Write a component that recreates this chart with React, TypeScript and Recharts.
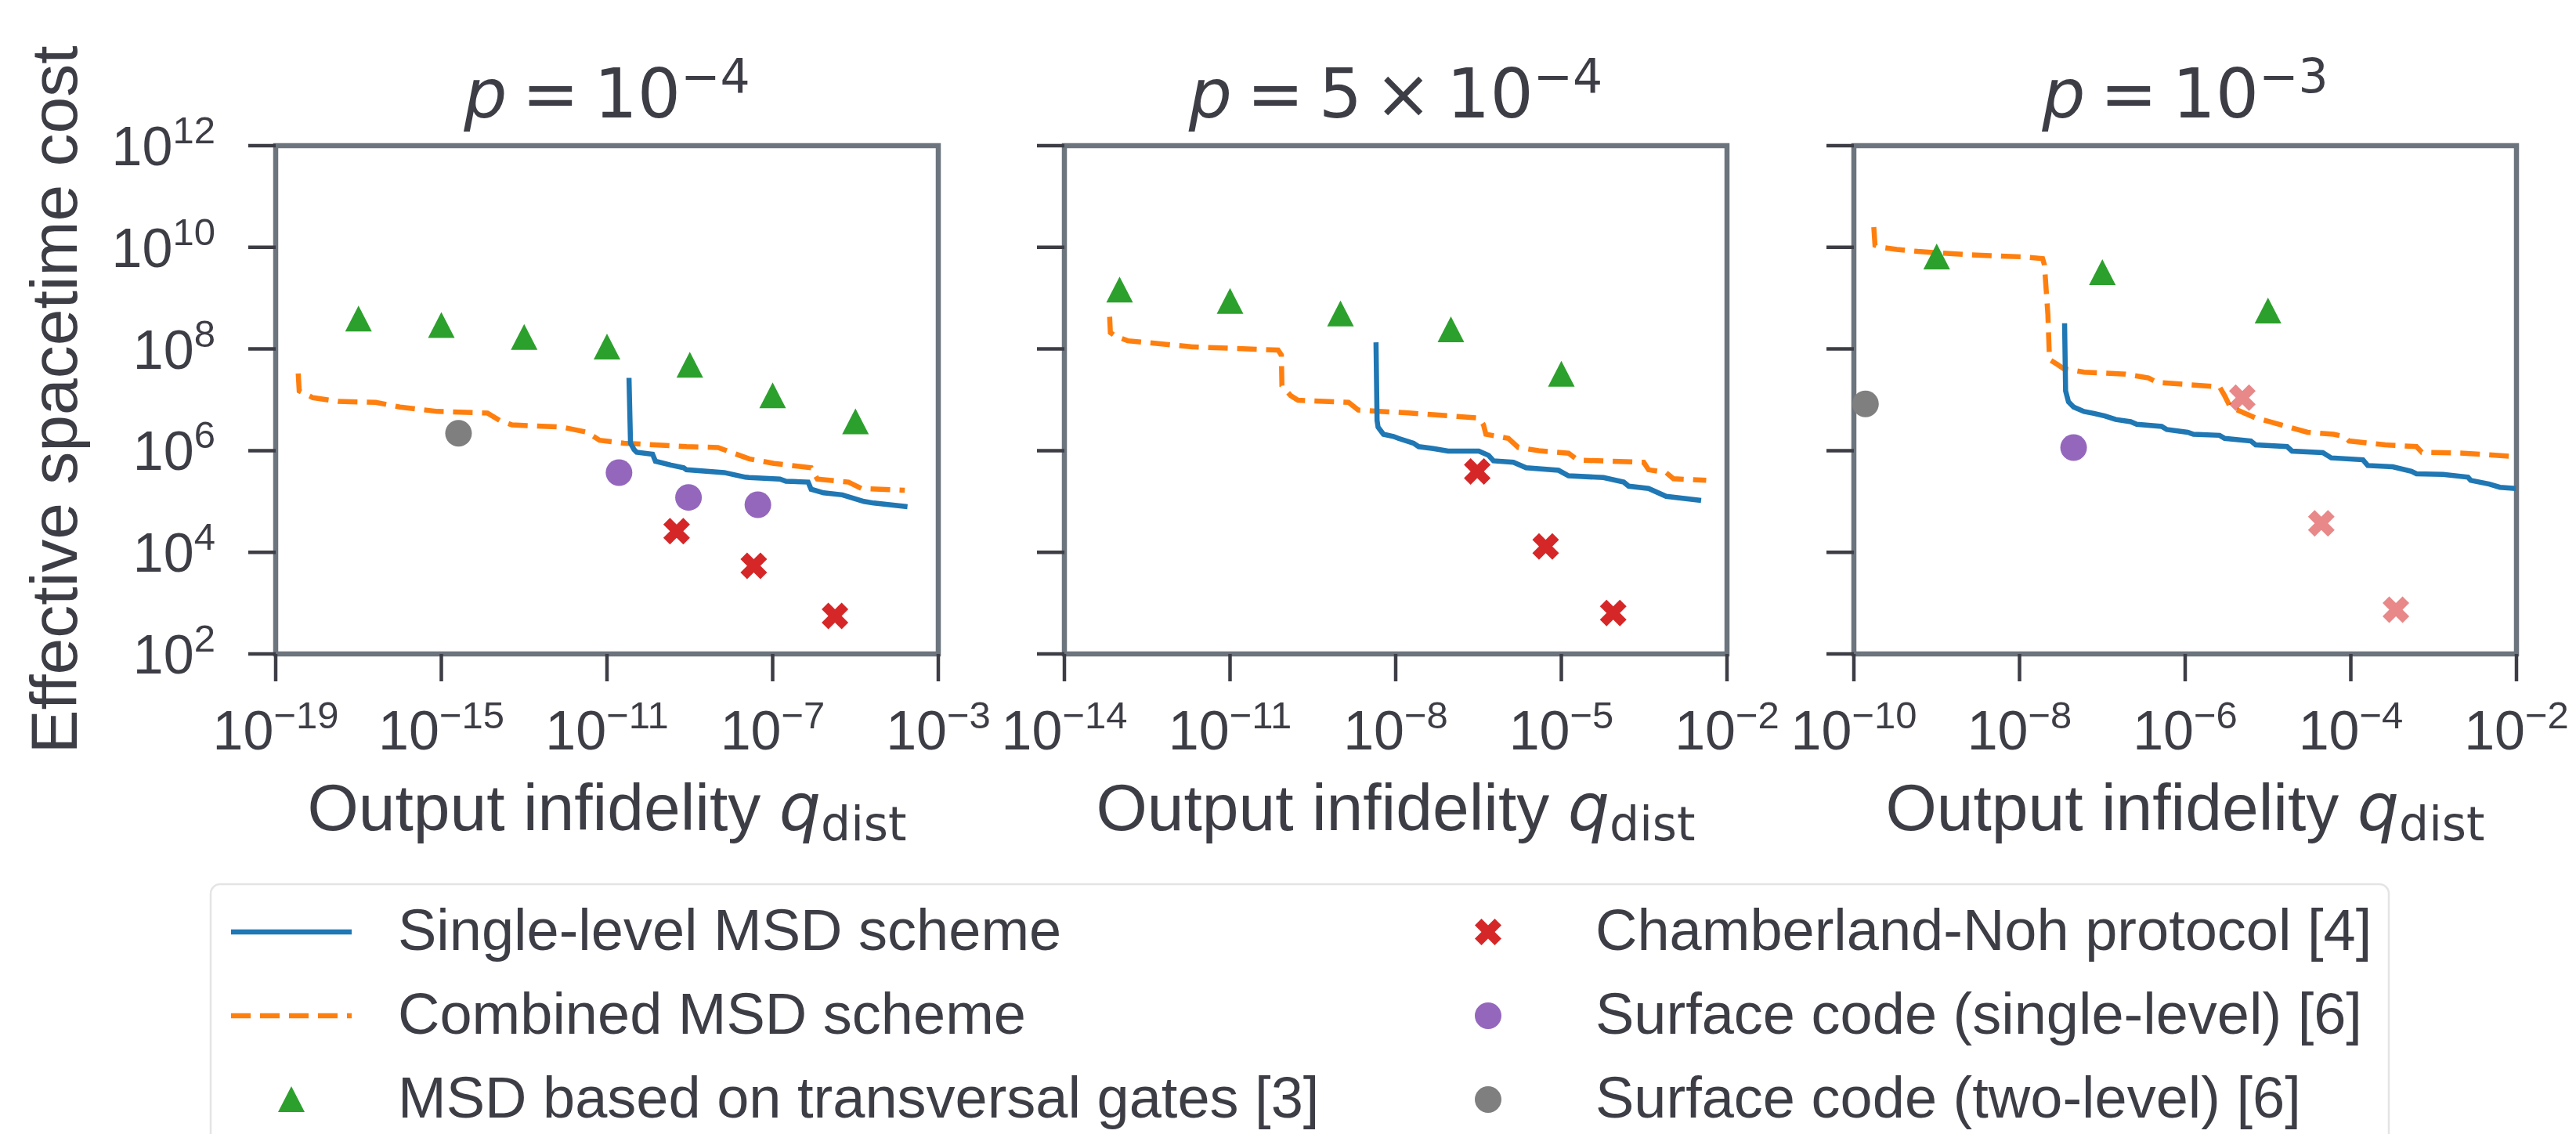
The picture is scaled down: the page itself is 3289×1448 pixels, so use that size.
import React from 'react';
import { ComposedChart, Line, Scatter, XAxis, YAxis, ReferenceArea } from 'recharts';

const TEXT = '#3d3d46';
const SPINE = '#6c747d';
const BLUE = '#1f77b4';
const ORANGE = '#ff7f0e';
const GREEN = '#2ca02c';
const RED = '#d62728';
const PURPLE = '#9467bd';
const GRAY = '#7f7f7f';
const SANS = '"Liberation Sans", Arial, sans-serif';
const MATH = '"DejaVu Sans", sans-serif';

type Pair = [number, number];

// ---- p = 1e-4 ----
const singleA: Pair[] = [
  [3.4e-11, 2.7e7], [3.7e-11, 1.4e6], [4.5e-11, 1.05e6], [5.2e-11, 9.3e5], [1.26e-10, 8.5e5],
  [1.48e-10, 6.2e5], [3.5e-10, 5.2e5], [7.1e-10, 4.6e5], [8.3e-10, 4.2e5], [6.8e-9, 3.7e5],
  [2.2e-8, 3.0e5], [2.7e-8, 2.95e5], [1.5e-7, 2.75e5], [2.1e-7, 2.5e5], [7.2e-7, 2.4e5],
  [8.5e-7, 1.74e5], [1.7e-6, 1.48e5], [4.8e-6, 1.35e5], [1.6e-5, 1.0e5], [2.75e-5, 9.3e4],
  [1.8e-4, 7.9e4],
];
const combinedA: Pair[] = [
  [3.5e-19, 3.3e7], [3.7e-19, 1.5e7], [7.9e-19, 1.1e7], [3.2e-18, 9.3e6], [2.6e-17, 8.9e6],
  [1.0e-16, 7.2e6], [8.1e-16, 5.9e6], [1.3e-14, 5.5e6], [2.6e-14, 3.9e6], [5.1e-14, 3.2e6],
  [8.3e-13, 2.9e6], [3.3e-12, 2.3e6], [6.6e-12, 1.6e6], [2.6e-11, 1.4e6], [8.3e-10, 1.2e6],
  [4.8e-9, 1.15e6], [2.7e-8, 6.9e5], [1.07e-7, 5.6e5], [8.5e-7, 4.6e5], [1.2e-6, 2.75e5],
  [6.8e-6, 2.4e5], [1.4e-5, 1.8e5], [1.55e-4, 1.66e5],
];
const transversalA: Pair[] = [
  [1e-17, 3.9e8], [1e-15, 2.9e8], [1e-13, 1.7e8], [1e-11, 1.1e8], [1e-9, 4.8e7], [1e-7, 1.2e7], [1e-5, 3.7e6],
];
const chamberlandA: Pair[] = [[4.8e-10, 2.6e4], [3.5e-8, 5.4e3], [3.2e-6, 5.6e2]];
const surfaceSingleA: Pair[] = [[1.95e-11, 3.7e5], [9.3e-10, 1.2e5], [4.4e-8, 8.6e4]];
const surfaceTwoA: Pair[] = [[2.6e-15, 2.2e6]];

// ---- p = 5e-4 ----
const singleB: Pair[] = [
  [4.4e-9, 1.35e8], [4.6e-9, 3.9e6], [4.8e-9, 2.9e6], [6.0e-9, 2.1e6], [9.1e-9, 1.9e6],
  [1.12e-8, 1.74e6], [2.1e-8, 1.4e6], [2.6e-8, 1.2e6], [4.8e-8, 1.1e6], [8.9e-8, 9.8e5],
  [3.2e-7, 9.8e5], [4.8e-7, 8.1e5], [5.9e-7, 6.3e5], [1.35e-6, 5.9e5], [2.3e-6, 4.6e5],
  [8.9e-6, 4.1e5], [1.35e-5, 3.2e5], [5.8e-5, 2.95e5], [1.35e-4, 2.4e5], [1.66e-4, 2.0e5],
  [3.8e-4, 1.8e5], [7.9e-4, 1.26e5], [3.4e-3, 1.05e5],
];
const combinedB: Pair[] = [
  [6.6e-14, 4.3e8], [6.8e-14, 2.1e8], [8.3e-14, 1.8e8], [1.4e-13, 1.45e8], [1.15e-12, 1.17e8],
  [2.1e-12, 1.1e8], [7.4e-11, 9.5e7], [8.5e-11, 7.6e7], [8.7e-11, 1.9e7], [1.26e-10, 1.2e7],
  [1.7e-10, 9.8e6], [1.4e-9, 8.9e6], [2.1e-9, 6.3e6], [1.7e-8, 5.5e6], [3.2e-7, 4.4e6],
  [3.9e-7, 3.2e6], [4.3e-7, 2.1e6], [1.1e-6, 1.74e6], [1.66e-6, 1.15e6], [3.9e-6, 1.0e6],
  [1.35e-5, 8.9e5], [2.0e-5, 6.5e5], [3.1e-4, 5.9e5], [3.8e-4, 4.2e5], [7.9e-4, 3.7e5],
  [1.07e-3, 2.8e5], [4.2e-3, 2.6e5],
];
const transversalB: Pair[] = [[1e-13, 1.45e9], [1e-11, 8.7e8], [1e-9, 4.9e8], [1e-7, 2.4e8], [1e-5, 3.2e7]];
const chamberlandB: Pair[] = [[3.0e-7, 3.9e5], [5.2e-6, 1.3e4], [8.7e-5, 6.4e2]];

// ---- p = 1e-3 ----
const singleC: Pair[] = [
  [3.5e-8, 3.2e8], [3.6e-8, 1.5e7], [3.9e-8, 9.1e6], [4.5e-8, 7.2e6], [6.0e-8, 5.9e6],
  [7.9e-8, 5.4e6], [1.07e-7, 4.8e6], [1.45e-7, 4.1e6], [2.2e-7, 3.7e6], [2.6e-7, 3.3e6],
  [5.2e-7, 3.0e6], [6.0e-7, 2.6e6], [1.07e-6, 2.3e6], [1.26e-6, 2.1e6], [2.6e-6, 2.0e6],
  [3.0e-6, 1.74e6], [6.2e-6, 1.55e6], [7.1e-6, 1.3e6], [1.7e-5, 1.2e6], [1.95e-5, 9.8e5],
  [4.6e-5, 9.1e5], [5.8e-5, 7.2e5], [1.4e-4, 6.6e5], [1.6e-4, 5.1e5], [3.2e-4, 4.8e5],
  [5.4e-4, 3.9e5], [6.2e-4, 3.5e5], [1.3e-3, 3.4e5], [2.6e-3, 3.0e5], [2.8e-3, 2.6e5],
  [4.7e-3, 2.2e5], [6.3e-3, 1.9e5], [9.8e-3, 1.8e5],
];
const combinedC: Pair[] = [
  [1.74e-10, 2.5e10], [1.8e-10, 1.1e10], [2.1e-10, 1.0e10], [3.3e-10, 9.1e9], [5.9e-10, 8.3e9],
  [2.5e-9, 7.1e9], [1.07e-8, 6.5e9], [1.9e-8, 6.0e9], [2.0e-8, 4.5e9], [2.2e-8, 4.8e8],
  [2.3e-8, 6.2e7], [2.95e-8, 4.8e7], [3.4e-8, 4.1e7], [6.0e-8, 3.5e7], [1.9e-7, 3.2e7],
  [3.6e-7, 2.7e7], [4.6e-7, 2.2e7], [2.6e-6, 1.8e7], [3.0e-6, 1.2e7], [3.5e-6, 7.2e6],
  [7.1e-6, 4.4e6], [1.45e-5, 3.2e6], [3.0e-5, 2.3e6], [6.2e-5, 2.1e6], [8.3e-5, 1.9e6],
  [9.5e-5, 1.55e6], [2.6e-4, 1.3e6], [6.2e-4, 1.2e6], [7.2e-4, 9.3e5], [2.3e-3, 8.9e5],
  [1.0e-2, 7.6e5],
];
const transversalC: Pair[] = [[1e-9, 6.5e9], [1e-7, 3.2e9], [1e-5, 5.6e8]];
const chamberlandC: Pair[] = [[4.9e-6, 1.1e7], [4.4e-5, 3.7e4], [3.5e-4, 7.4e2]];
const surfaceSingleC: Pair[] = [[4.5e-8, 1.15e6]];
const surfaceTwoC: Pair[] = [[1.38e-10, 8.3e6]];

// ---- axes ----
const yTicks = [1e2, 1e4, 1e6, 1e8, 1e10, 1e12];
const xTicksA = [1e-19, 1e-15, 1e-11, 1e-7, 1e-3];
const xTicksB = [1e-14, 1e-11, 1e-8, 1e-5, 1e-2];
const xTicksC = [1e-10, 1e-8, 1e-6, 1e-4, 1e-2];

const legendLabels = [
  'Single-level MSD scheme',
  'Combined MSD scheme',
  'MSD based on transversal gates [3]',
  'Chamberland-Noh protocol [4]',
  'Surface code (single-level) [6]',
  'Surface code (two-level) [6]',
];

const pts = (arr: Pair[]) => arr.map(([x, y]) => ({ x, y }));

const exponentOf = (v: number) => {
  const e = Math.round(Math.log10(v));
  return e < 0 ? '\u2212' + Math.abs(e) : String(e);
};

// marker shapes (matplotlib-like ^, X, o)
const M = 17;
function triPath(cx: number, cy: number) {
  return `M${cx},${cy - M}L${cx + M},${cy + M - 1}L${cx - M},${cy + M - 1}Z`;
}
const plus: Pair[] = [
  [-1, -3], [1, -3], [1, -1], [3, -1], [3, 1], [1, 1], [1, 3], [-1, 3], [-1, 1], [-3, 1], [-3, -1], [-1, -1],
];
function crossPath(cx: number, cy: number) {
  const k = M / (4 / Math.SQRT2);
  return (
    plus
      .map(([u, v], i) => `${i === 0 ? 'M' : 'L'}${cx + ((u - v) / Math.SQRT2) * k},${cy + ((u + v) / Math.SQRT2) * k}`)
      .join('') + 'Z'
  );
}

const Triangle = (p: any) => <path d={triPath(p.cx, p.cy)} fill={p.fill} />;
const Cross = (p: any) => <path d={crossPath(p.cx, p.cy)} fill={p.fill} fillOpacity={p.fillOpacity} />;
const Dot = (p: any) => <circle cx={p.cx} cy={p.cy} r={M} fill={p.fill} />;

const PLOT_W = 846;
const PLOT_H = 649;
const PLOT_TOP = 186;
const PAD_L = 250;
const PAD_R = 100;
const X_AXIS_H = 199;
const PAD_B = 100;

function XTick({ x, y, payload }: any) {
  return (
    <text x={x} y={y + 87} textAnchor="middle" fontFamily={SANS} fontSize={70} fill={TEXT}>
      10<tspan dy={-27} fontSize={49}>{exponentOf(payload.value)}</tspan>
    </text>
  );
}

function YTick({ x, y, payload }: any) {
  return (
    <text x={x} y={y + 25} textAnchor="end" fontFamily={SANS} fontSize={70} fill={TEXT}>
      10<tspan dy={-28} fontSize={49}>{exponentOf(payload.value)}</tspan>
    </text>
  );
}

function NoTick() {
  return <g />;
}

interface PanelProps {
  left: number;
  ticks: number[];
  single: Pair[];
  combined: Pair[];
  transversal: Pair[];
  chamberland: Pair[];
  faded?: boolean;
  surfaceSingle?: Pair[];
  surfaceTwo?: Pair[];
  yLabels?: boolean;
}

function Panel({ left, ticks, single, combined, transversal, chamberland, faded, surfaceSingle, surfaceTwo, yLabels }: PanelProps) {
  const x0 = ticks[0];
  const x1 = ticks[ticks.length - 1];
  const tickLine = { stroke: TEXT, strokeWidth: 4.5 };
  return (
    <div style={{ position: 'absolute', left: left - PAD_L, top: 0 }}>
      <ComposedChart
        width={PAD_L + PLOT_W + PAD_R}
        height={PLOT_TOP + PLOT_H + X_AXIS_H + PAD_B}
        margin={{ top: PLOT_TOP, right: PAD_R, bottom: PAD_B, left: PAD_L - 200 }}
      >
        <XAxis
          type="number"
          dataKey="x"
          scale="log"
          domain={[x0, x1]}
          ticks={ticks}
          interval={0}
          height={X_AXIS_H}
          axisLine={false}
          tickSize={35}
          tickMargin={0}
          tickLine={tickLine}
          tick={XTick}
        />
        <YAxis
          type="number"
          dataKey="y"
          scale="log"
          domain={[1e2, 1e12]}
          ticks={yTicks}
          interval={0}
          width={200}
          axisLine={false}
          tickSize={35}
          tickMargin={42}
          tickLine={tickLine}
          tick={yLabels ? YTick : NoTick}
        />
        <ReferenceArea
          x1={x0}
          x2={x1}
          y1={1e2}
          y2={1e12}
          fill="none"
          fillOpacity={0}
          stroke={SPINE}
          strokeWidth={6.5}
          ifOverflow="visible"
        />
        <Scatter data={pts(transversal)} dataKey="y" fill={GREEN} shape={Triangle} isAnimationActive={false} />
        <Scatter
          data={pts(chamberland)}
          dataKey="y"
          fill={RED}
          fillOpacity={faded ? 0.55 : 1}
          shape={Cross}
          isAnimationActive={false}
        />
        {surfaceSingle && (
          <Scatter data={pts(surfaceSingle)} dataKey="y" fill={PURPLE} shape={Dot} isAnimationActive={false} />
        )}
        {surfaceTwo && <Scatter data={pts(surfaceTwo)} dataKey="y" fill={GRAY} shape={Dot} isAnimationActive={false} />}
        <Line
          data={pts(combined)}
          dataKey="y"
          type="linear"
          stroke={ORANGE}
          strokeWidth={6.5}
          strokeDasharray="25 12"
          dot={false}
          activeDot={false}
          isAnimationActive={false}
        />
        <Line
          data={pts(single)}
          dataKey="y"
          type="linear"
          stroke={BLUE}
          strokeWidth={6.5}
          dot={false}
          activeDot={false}
          isAnimationActive={false}
        />
      </ComposedChart>
    </div>
  );
}

const panelLefts = [352, 1359, 2367];

function Title({ cx, mant, exp }: { cx: number; mant?: string; exp: string }) {
  return (
    <text x={cx} y={150} textAnchor="middle" fontFamily={MATH} fontSize={87} fill={TEXT}>
      <tspan fontStyle="italic">p</tspan>
      <tspan dx={19}>=</tspan>
      {mant ? <tspan dx={19}>{mant}</tspan> : null}
      {mant ? <tspan dx={16}>×</tspan> : null}
      <tspan dx={19}>10</tspan>
      <tspan dy={-32} fontSize={60}>{exp}</tspan>
    </text>
  );
}

function XLabel({ cx }: { cx: number }) {
  return (
    <text x={cx} y={1060} textAnchor="middle" fontFamily={SANS} fontSize={84} fill={TEXT}>
      {'Output infidelity '}
      <tspan fontFamily={MATH} fontStyle="italic">q</tspan>
      <tspan fontFamily={MATH} fontSize={60} dy={13}>dist</tspan>
    </text>
  );
}

function Overlay() {
  const rows = [1190, 1297, 1404];
  const lx0 = 295;
  const lx1 = 449;
  const lmid = (lx0 + lx1) / 2;
  const ltext = 508;
  const rmid = 1900;
  const rtext = 2037;
  const textProps = { fontFamily: SANS, fontSize: 74, fill: TEXT };
  return (
    <svg width={3289} height={1448} style={{ position: 'absolute', left: 0, top: 0, pointerEvents: 'none' }}>
      {panelLefts.map((l, i) => (
        <Title
          key={'t' + i}
          cx={l + PLOT_W / 2}
          mant={i === 1 ? '5' : undefined}
          exp={i === 2 ? '\u22123' : '\u22124'}
        />
      ))}
      {panelLefts.map((l, i) => (
        <XLabel key={'x' + i} cx={l + PLOT_W / 2} />
      ))}
      <text
        transform="rotate(-90)"
        x={-(PLOT_TOP + PLOT_H / 2)}
        y={98}
        textAnchor="middle"
        fontFamily={SANS}
        fontSize={84}
        fill={TEXT}
      >
        Effective spacetime cost
      </text>

      <rect x={269} y={1129} width={2781} height={380} rx={12} fill="#ffffff" stroke="#e4e4e4" strokeWidth={2.5} />
      <line x1={lx0} x2={lx1} y1={rows[0]} y2={rows[0]} stroke={BLUE} strokeWidth={6.5} />
      <line x1={lx0} x2={lx1} y1={rows[1]} y2={rows[1]} stroke={ORANGE} strokeWidth={6.5} strokeDasharray="25 12" />
      <path d={triPath(lmid, rows[2])} fill={GREEN} />
      <path d={crossPath(rmid, rows[0])} fill={RED} />
      <circle cx={rmid} cy={rows[1]} r={M} fill={PURPLE} />
      <circle cx={rmid} cy={rows[2]} r={M} fill={GRAY} />
      {legendLabels.slice(0, 3).map((s, i) => (
        <text key={'l' + i} x={ltext} y={rows[i] + 23} {...textProps}>
          {s}
        </text>
      ))}
      {legendLabels.slice(3).map((s, i) => (
        <text key={'r' + i} x={rtext} y={rows[i] + 23} {...textProps}>
          {s}
        </text>
      ))}
    </svg>
  );
}

export default function App() {
  return (
    <div
      style={{
        position: 'absolute',
        left: 0,
        top: 0,
        width: 3289,
        height: 1448,
        overflow: 'hidden',
        background: '#ffffff',
        fontFamily: SANS,
      }}
    >
      <Panel
        left={panelLefts[0]}
        ticks={xTicksA}
        single={singleA}
        combined={combinedA}
        transversal={transversalA}
        chamberland={chamberlandA}
        surfaceSingle={surfaceSingleA}
        surfaceTwo={surfaceTwoA}
        yLabels
      />
      <Panel
        left={panelLefts[1]}
        ticks={xTicksB}
        single={singleB}
        combined={combinedB}
        transversal={transversalB}
        chamberland={chamberlandB}
      />
      <Panel
        left={panelLefts[2]}
        ticks={xTicksC}
        single={singleC}
        combined={combinedC}
        transversal={transversalC}
        chamberland={chamberlandC}
        faded
        surfaceSingle={surfaceSingleC}
        surfaceTwo={surfaceTwoC}
      />
      <Overlay />
    </div>
  );
}
